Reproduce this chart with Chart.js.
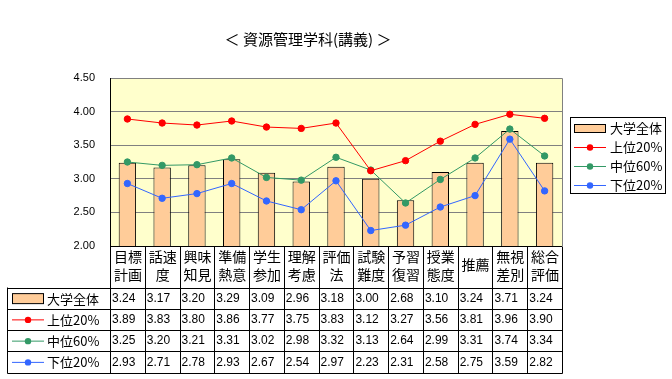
<!DOCTYPE html>
<html><head><meta charset="utf-8">
<script src="https://cdn.jsdelivr.net/npm/chart.js@4/dist/chart.umd.min.js"></script>
<style>html,body{margin:0;padding:0;background:#fff}#wrap{width:672px;height:379px;position:relative}</style>
</head><body><div id="wrap"><canvas id="c" width="672" height="379"></canvas></div>
<script>
const titleText = '＜ 資源管理学科(講義) ＞';
const categories = [['目標','計画'],['話速','度'],['興味','知見'],['準備','熱意'],['学生','参加'],['理解','考慮'],['評価','法'],['試験','難度'],['予習','復習'],['授業','態度'],['推薦'],['無視','差別'],['総合','評価']];
const seriesNames = ['大学全体','上位20%','中位60%','下位20%'];
const allUniv = [3.24,3.17,3.20,3.29,3.09,2.96,3.18,3.00,2.68,3.10,3.24,3.71,3.24];
const top20 = [3.89,3.83,3.80,3.86,3.77,3.75,3.83,3.12,3.27,3.56,3.81,3.96,3.90];
const mid60 = [3.25,3.20,3.21,3.31,3.02,2.98,3.32,3.13,2.64,2.99,3.31,3.74,3.34];
const low20 = [2.93,2.71,2.78,2.93,2.67,2.54,2.97,2.23,2.31,2.58,2.75,3.59,2.82];
const yTicks = [2.00,2.50,3.00,3.50,4.00,4.50];

const BAR = '#FFCC99', RED = '#FF0000', GREEN = '#339966', BLUE = '#3366FF';
const CJK = '"Noto Sans CJK JP", sans-serif';
const NUM = '"Liberation Sans", Arial, sans-serif';

function lineDs(label, data, color, order){
  return {type:'line', label, data, borderColor:color, backgroundColor:color, borderWidth:1,
    pointRadius:3.2, pointHoverRadius:3.2, pointBackgroundColor:color, pointBorderColor:color,
    tension:0, order};
}

const tablePlugin = {
  id:'table',
  beforeDraw(chart){
    const {ctx, chartArea:a} = chart;
    ctx.save();
    ctx.fillStyle = '#FFFFCC';
    ctx.fillRect(a.left, a.top, a.right-a.left, a.bottom-a.top);
    ctx.restore();
  },
  afterDraw(chart){
    const {ctx, chartArea:a} = chart;
    const xs = chart.scales.x;
    const n = categories.length;
    const cw = xs.getPixelForValue(1) - xs.getPixelForValue(0);
    ctx.save();
    // plot border right/top
    ctx.strokeStyle = '#808080'; ctx.lineWidth = 1;
    ctx.beginPath();
    ctx.moveTo(a.left, Math.round(a.top)+0.5); ctx.lineTo(Math.round(a.right)+0.5, Math.round(a.top)+0.5);
    ctx.lineTo(Math.round(a.right)+0.5, Math.round(a.bottom));
    ctx.stroke();
    // axis lines black
    ctx.strokeStyle = '#000';
    ctx.beginPath();
    ctx.moveTo(Math.round(a.left)+0.5, a.top); ctx.lineTo(Math.round(a.left)+0.5, a.bottom);
    ctx.stroke();

    // title
    ctx.fillStyle = '#000';
    ctx.font = '15px ' + CJK;
    ctx.textAlign = 'center'; ctx.textBaseline = 'middle';
    ctx.fillText(titleText, 308, 39);

    // table
    const top = Math.round(a.bottom) + 0.5;
    const rowTop = 287.5;
    const rowH = 21.25;
    const bottom = rowTop + rowH*4;
    const leftX = 7.5;
    ctx.strokeStyle = '#000';
    ctx.beginPath();
    ctx.moveTo(a.left, top); ctx.lineTo(a.right, top);
    for (let r=0;r<=4;r++){
      const y = Math.round(rowTop + rowH*r)+0.5;
      ctx.moveTo(leftX, y); ctx.lineTo(Math.round(a.right)+0.5, y);
    }
    ctx.moveTo(leftX, rowTop); ctx.lineTo(leftX, Math.round(bottom)+0.5);
    for (let i=0;i<=n;i++){
      const x = Math.round(xs.getPixelForValue(i) - cw/2)+0.5;
      ctx.moveTo(x, top); ctx.lineTo(x, Math.round(bottom)+0.5);
    }
    ctx.stroke();

    // category labels
    ctx.font = '14px ' + CJK;
    ctx.textAlign = 'center'; ctx.textBaseline = 'middle';
    categories.forEach((lab,i)=>{
      const cx = xs.getPixelForValue(i) + 0.5;
      if (lab.length === 1){ ctx.fillText(lab[0], cx, 265); }
      else { ctx.fillText(lab[0], cx, 257); ctx.fillText(lab[1], cx, 275); }
    });

    // rows
    const datasets = [allUniv, top20, mid60, low20];
    const colors = [BAR, RED, GREEN, BLUE];
    datasets.forEach((d,r)=>{
      const cy = rowTop + rowH*r + rowH/2 + 0.5;
      // legend key
      if (r===0){
        ctx.fillStyle = BAR; ctx.fillRect(12.5, cy-5, 31, 10);
        ctx.strokeStyle = '#000'; ctx.strokeRect(12.5, cy-5, 31, 10);
      } else {
        ctx.strokeStyle = colors[r]; ctx.beginPath(); ctx.moveTo(12, cy); ctx.lineTo(44, cy); ctx.stroke();
        ctx.fillStyle = colors[r]; ctx.beginPath(); ctx.arc(28, cy, 3.2, 0, Math.PI*2); ctx.fill();
      }
      ctx.fillStyle = '#000';
      ctx.font = '13px ' + CJK; ctx.textAlign = 'left';
      ctx.fillText(seriesNames[r], 47, cy);
      ctx.font = '12px ' + NUM;
      d.forEach((v,i)=>{
        const x = xs.getPixelForValue(i) - cw/2 + 2;
        ctx.fillText(v.toFixed(2), x, cy);
      });
    });

    // right legend
    const lx = 570.5, ly = 117.5, lw = 95, lh = 76;
    ctx.fillStyle = '#fff'; ctx.fillRect(lx, ly, lw, lh);
    ctx.strokeStyle = '#000'; ctx.strokeRect(lx, ly, lw, lh);
    const ys = [128, 147, 166, 185];
    seriesNames.forEach((s,r)=>{
      const cy = ys[r] + 0.5;
      if (r===0){
        ctx.fillStyle = BAR; ctx.fillRect(574.5, cy-4, 31, 8);
        ctx.strokeStyle = '#000'; ctx.strokeRect(574.5, cy-4, 31, 8);
      } else {
        ctx.strokeStyle = colors[r]; ctx.beginPath(); ctx.moveTo(574, cy); ctx.lineTo(606, cy); ctx.stroke();
        ctx.fillStyle = colors[r]; ctx.beginPath(); ctx.arc(590, cy, 3.2, 0, Math.PI*2); ctx.fill();
      }
      ctx.fillStyle = '#000'; ctx.font = '13px ' + CJK; ctx.textAlign = 'left';
      ctx.fillText(s, 610, cy);
    });
    ctx.restore();
  }
};

new Chart(document.getElementById('c'), {
  type:'bar',
  data:{
    labels: categories,
    datasets:[
      {type:'bar', label:seriesNames[0], data:allUniv, backgroundColor:BAR, borderColor:'#000', borderWidth:1,
       categoryPercentage:1, barPercentage:0.5, order:4},
      lineDs(seriesNames[1], top20, RED, 1),
      lineDs(seriesNames[2], mid60, GREEN, 2),
      lineDs(seriesNames[3], low20, BLUE, 3)
    ]
  },
  options:{
    responsive:false, animation:false, devicePixelRatio:1,
    layout:{padding:{left:0, right:110, top:78, bottom:133}},
    plugins:{legend:{display:false}, title:{display:false}, tooltip:{enabled:false}},
    scales:{
      x:{display:false, offset:true},
      y:{min:2, max:4.5, afterBuildTicks(s){ s.ticks = yTicks.map(v=>({value:v})); },
         afterFit(s){ s.width = 110; },
         ticks:{padding:15, color:'#000', font:{family:NUM, size:11}, callback:(v)=>Number(v).toFixed(2)},
         grid:{color:'#808080', drawTicks:false, lineWidth:1},
         border:{display:true, color:'#000'}}
    }
  },
  plugins:[tablePlugin]
});
</script></body></html>
